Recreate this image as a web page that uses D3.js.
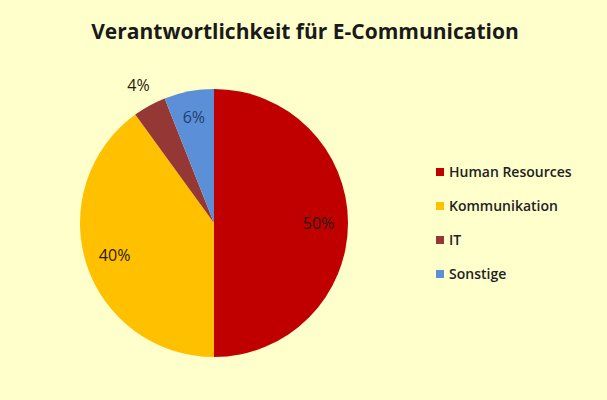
<!DOCTYPE html>
<html>
<head>
<meta charset="utf-8">
<script src="https://cdn.jsdelivr.net/npm/d3@7"></script>
<style>
  body { margin: 0; background: #ffffcc; }
  svg { display: block; font-family: "Open Sans", "DejaVu Sans", sans-serif; }
</style>
</head>
<body>
<div id="chart"></div>
<script>
// data
const categories = ["Human Resources", "Kommunikation", "IT", "Sonstige"];
const shares = [50, 40, 4, 6];
const sliceColors = ["#c00000", "#ffc000", "#953735", "#5b8fd8"];
const labelRadius = [0.78, 0.78, 1.17, 0.8];

const width = 607, height = 400;
const cx = 214, cy = 223, r = 134;

const svg = d3.select("#chart")
  .append("svg")
  .attr("width", width)
  .attr("height", height);

svg.append("rect")
  .attr("width", width)
  .attr("height", height)
  .attr("fill", "#ffffcc");

svg.append("text")
  .attr("x", 305)
  .attr("y", 39)
  .attr("text-anchor", "middle")
  .style("font-size", "21px")
  .style("font-weight", "bold")
  .attr("fill", "#1a1a1a")
  .text("Verantwortlichkeit für E-Communication");

const color = d3.scaleOrdinal().domain(categories).range(sliceColors);

const pie = d3.pie().sort(null).value(d => d.value);
const arcs = pie(categories.map((c, i) => ({ name: c, value: shares[i], lr: labelRadius[i] })));
const arc = d3.arc().innerRadius(0).outerRadius(r);

const g = svg.append("g").attr("transform", `translate(${cx},${cy})`);

g.selectAll("path")
  .data(arcs)
  .enter()
  .append("path")
  .attr("d", arc)
  .attr("fill", d => color(d.data.name));

g.selectAll("text")
  .data(arcs)
  .enter()
  .append("text")
  .attr("transform", d => {
    const lr = d3.arc().innerRadius(r * d.data.lr).outerRadius(r * d.data.lr);
    return `translate(${lr.centroid(d)})`;
  })
  .attr("text-anchor", "middle")
  .attr("dy", "0.35em")
  .style("font-size", "16px")
  .attr("fill", d => d.data.name === "Sonstige" ? "#1f3f6e" : "#2a1a0a")
  .text(d => d.data.value + "%");

const legend = svg.selectAll(".legend")
  .data(categories)
  .enter()
  .append("g")
  .attr("class", "legend")
  .attr("transform", (d, i) => `translate(436,${172 + i * 34})`);

legend.append("rect")
  .attr("x", 0)
  .attr("y", -4)
  .attr("width", 8)
  .attr("height", 8)
  .attr("fill", color);

legend.append("text")
  .attr("x", 13)
  .attr("y", 0)
  .attr("dy", "0.35em")
  .style("font-size", "14px")
  .style("font-weight", "600")
  .attr("fill", "#222")
  .text(d => d);
</script>
</body>
</html>
